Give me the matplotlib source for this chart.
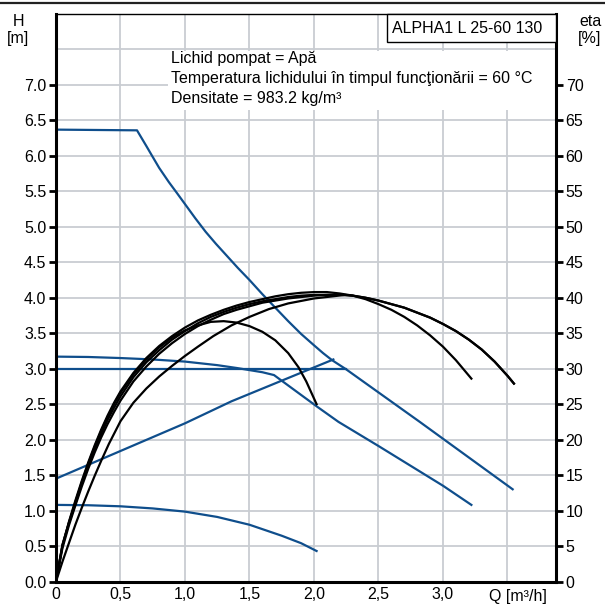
import matplotlib
matplotlib.use("Agg")
import matplotlib.pyplot as plt
from matplotlib.lines import Line2D
from matplotlib.patches import Rectangle

plt.rcParams["font.family"] = ["Liberation Sans", "DejaVu Sans"]

BLUE = "#0f4e8c"
GRID = "#c9cdd2"

# pump curves, H [m] over Q [m3/h]
q_max = [0.0, 0.628, 0.70, 0.745, 0.80, 0.875, 0.94, 1.0, 1.08, 1.16, 1.24, 1.32, 1.41, 1.5,
         1.6, 1.7, 1.8, 1.9, 2.0, 2.07, 2.14, 2.25, 2.82, 3.54]
h_max = [6.37, 6.36, 6.14, 6.0, 5.83, 5.63, 5.47, 5.32, 5.12, 4.93, 4.76, 4.60, 4.42, 4.25,
         4.05, 3.86, 3.67, 3.49, 3.33, 3.22, 3.12, 2.99, 2.25, 1.30]

q_cp = [0.0, 2.25]
h_cp = [3.0, 3.0]

q_pp = [0.0, 1.0, 1.36, 2.15]
h_pp = [1.45, 2.23, 2.54, 3.13]

q_mid = [0.0, 0.25, 0.5, 0.75, 1.0, 1.25, 1.4, 1.5, 1.6, 1.69, 2.02, 2.19, 2.5, 3.0, 3.22]
h_mid = [3.17, 3.165, 3.15, 3.13, 3.10, 3.05, 3.01, 2.98, 2.95, 2.91, 2.47, 2.25, 1.91, 1.35, 1.08]

q_low = [0.0, 0.25, 0.5, 0.75, 1.0, 1.25, 1.5, 1.75, 1.9, 2.02]
h_low = [1.08, 1.075, 1.06, 1.03, 0.985, 0.91, 0.80, 0.645, 0.54, 0.43]

# efficiency curves, eta [%]
q_eta_a = [0.0, 0.05, 0.1, 0.15, 0.2, 0.25, 0.3, 0.35, 0.4, 0.45, 0.5, 0.6, 0.7, 0.8, 0.9, 1.0,
           1.1, 1.2, 1.3, 1.4, 1.5, 1.6, 1.7, 1.8, 1.9, 2.0, 2.1, 2.2, 2.3, 2.4, 2.5, 2.6, 2.7,
           2.8, 2.9, 3.0, 3.1, 3.22]
eta_a = [0.0, 5.0, 8.4, 11.4, 14.2, 16.8, 19.2, 21.4, 23.4, 25.2, 26.8, 29.4, 31.5, 33.2, 34.6, 35.8,
         36.8, 37.6, 38.3, 38.9, 39.4, 39.8, 40.2, 40.5, 40.7, 40.8, 40.8, 40.6, 40.3, 39.8, 39.1, 38.3, 37.3,
         36.1, 34.7, 33.1, 31.2, 28.6]

q_eta_b = [0.0, 0.05, 0.1, 0.15, 0.2, 0.25, 0.3, 0.35, 0.4, 0.45, 0.5, 0.6, 0.7, 0.8, 0.9, 1.0,
           1.1, 1.2, 1.3, 1.4, 1.5, 1.6, 1.7, 1.8, 1.9, 2.0, 2.1, 2.2, 2.3, 2.4, 2.5, 2.6, 2.7,
           2.8, 2.9, 3.0, 3.1, 3.2, 3.3, 3.4, 3.5, 3.55]
eta_b = [0.0, 4.7, 7.9, 10.7, 13.4, 15.9, 18.2, 20.3, 22.2, 23.9, 25.5, 28.2, 30.3, 32.1, 33.6, 34.9,
         36.0, 36.9, 37.7, 38.3, 38.8, 39.3, 39.6, 39.9, 40.1, 40.3, 40.4, 40.4, 40.3, 40.0, 39.6, 39.1, 38.6,
         37.9, 37.2, 36.3, 35.3, 34.1, 32.7, 31.0, 29.0, 27.9]

q_eta_c = [0.0, 0.05, 0.1, 0.15, 0.2, 0.25, 0.3, 0.35, 0.4, 0.45, 0.5, 0.6, 0.7, 0.8, 0.9, 1.0,
           1.1, 1.2, 1.3, 1.4, 1.5, 1.6, 1.7, 1.8, 1.9, 2.0, 2.1, 2.2]
eta_c = [0.0, 5.1, 8.2, 11.0, 13.8, 16.3, 18.7, 20.8, 22.8, 24.5, 26.1, 28.8, 30.9, 32.6, 34.1, 35.3,
         36.4, 37.3, 38.0, 38.6, 39.1, 39.5, 39.8, 40.1, 40.3, 40.4, 40.4, 40.4]

q_eta_small = [0.0, 0.05, 0.1, 0.15, 0.2, 0.25, 0.3, 0.35, 0.4, 0.45, 0.5, 0.6, 0.7, 0.8, 0.9, 1.0,
               1.1, 1.2, 1.3, 1.4, 1.5, 1.6, 1.7, 1.8, 1.88, 1.94, 2.02]
eta_small = [0.0, 5.2, 8.3, 11.2, 14.0, 16.6, 19.0, 21.2, 23.2, 25.0, 26.6, 29.2, 31.3, 33.0, 34.4, 35.4,
             36.1, 36.6, 36.7, 36.5, 36.0, 35.2, 34.0, 32.2, 30.2, 28.2, 25.0]

q_eta_slow = [0.0, 0.05, 0.1, 0.15, 0.2, 0.25, 0.3, 0.35, 0.41, 0.5, 0.6, 0.7, 0.8, 0.9, 1.0, 1.1,
              1.22, 1.36, 1.5, 1.65, 1.8, 2.0, 2.24, 2.3, 2.4, 2.5, 2.6, 2.7, 2.8, 2.9, 3.0, 3.1,
              3.2, 3.3, 3.4, 3.5, 3.55]
eta_slow = [0.0, 2.8, 5.4, 8.0, 10.4, 12.7, 14.9, 17.0, 19.4, 22.6, 25.2, 27.2, 28.9, 30.4, 31.8, 33.1,
            34.6, 36.1, 37.3, 38.4, 39.2, 39.9, 40.4, 40.3, 40.0, 39.6, 39.1, 38.6, 37.9, 37.2, 36.3, 35.3,
            34.1, 32.7, 31.0, 29.0, 27.9]

h_ticks = [0.0, 0.5, 1.0, 1.5, 2.0, 2.5, 3.0, 3.5, 4.0, 4.5, 5.0, 5.5, 6.0, 6.5, 7.0]
eta_ticks = [0, 5, 10, 15, 20, 25, 30, 35, 40, 45, 50, 55, 60, 65, 70]
q_ticks = [0.0, 0.5, 1.0, 1.5, 2.0, 2.5, 3.0, 3.5]
q_labels = ["0", "0,5", "1,0", "1,5", "2,0", "2,5", "3,0", ""]

info_lines = ["Lichid pompat = Apă",
              "Temperatura lichidului în timpul funcţionării = 60 °C",
              "Densitate = 983.2 kg/m³"]
title = "ALPHA1 L 25-60 130"

FS = 11.5

fig = plt.figure(figsize=(6.05, 6.04), dpi=100)
ax = fig.add_axes([56 / 605, 1 - 581.5 / 604, 500 / 605, 567.5 / 604])
ax.set_xlim(0, 3.876)
ax.set_ylim(0, 8)
ax.set_axisbelow(True)

ax.set_xticks(q_ticks)
ax.set_xticklabels(q_labels)
ax.set_yticks(h_ticks)
ax.set_yticklabels([f"{v:.1f}" for v in h_ticks])
ax.axhline(7.5, color=GRID, lw=1.3, zorder=0.5)
ax.grid(True, color=GRID, lw=1.3)
ax.tick_params(axis="x", length=0, labelsize=FS, pad=4)
ax.tick_params(axis="y", length=5, width=2, labelsize=FS, pad=2)

for side in ("left", "bottom", "right"):
    ax.spines[side].set_linewidth(2.2)
ax.spines["top"].set_linewidth(1.0)

ax.plot(q_max, h_max, color=BLUE, lw=1.6)
ax.plot(q_cp, h_cp, color=BLUE, lw=1.6)
ax.plot(q_pp, h_pp, color=BLUE, lw=1.6)
ax.plot(q_mid, h_mid, color=BLUE, lw=1.6)
ax.plot(q_low, h_low, color=BLUE, lw=1.6)

ax2 = ax.twinx()
ax2.set_ylim(0, 80)
ax2.set_yticks(eta_ticks)
ax2.tick_params(axis="y", length=5, width=2, labelsize=FS, pad=2)
for sp in ax2.spines.values():
    sp.set_visible(False)
for q, e in [(q_eta_a, eta_a), (q_eta_b, eta_b), (q_eta_c, eta_c),
             (q_eta_small, eta_small), (q_eta_slow, eta_slow)]:
    ax2.plot(q, e, color="black", lw=1.6)

# white background behind the fluid info
ax.add_patch(Rectangle((0.87, 6.65), 3.876 - 0.87, 0.83, facecolor="white",
                       edgecolor="none", zorder=1))
for i, line in enumerate(info_lines):
    ax.text(0.89, 7.37 - i * 0.28, line, fontsize=FS, va="center", ha="left", zorder=3)

ax.add_patch(Rectangle((2.566, 7.61), 3.876 - 2.566, 0.39, facecolor="white",
                       edgecolor="black", lw=1.0, zorder=3, clip_on=False))
ax.text(3.19, 7.80, title, fontsize=FS, ha="center", va="center", zorder=4)

ax.text(3.58, -0.1, "Q [m³/h]", fontsize=FS, ha="center", va="top")

fig.text(18 / 605, 1 - 21 / 604, "H", fontsize=FS, ha="center", va="center")
fig.text(18 / 605, 1 - 38 / 604, "[m]", fontsize=FS, ha="center", va="center")
fig.text(590 / 605, 1 - 21 / 604, "eta", fontsize=FS, ha="center", va="center")
fig.text(590 / 605, 1 - 38 / 604, "[%]", fontsize=FS, ha="center", va="center")

fig.add_artist(Line2D([0, 1], [1 - 2.5 / 604, 1 - 2.5 / 604], color="#222222", lw=1.6))

fig.savefig("out.png", dpi=100)
